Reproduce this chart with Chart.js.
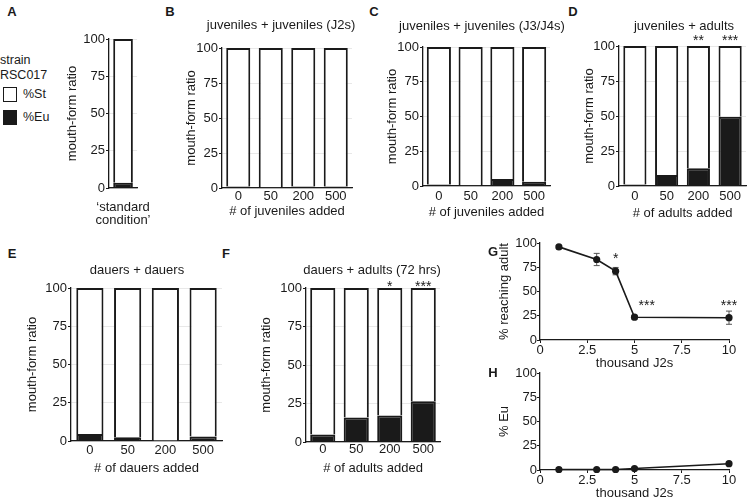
<!DOCTYPE html>
<html><head><meta charset="utf-8">
<script src="https://cdn.jsdelivr.net/npm/chart.js@4.4.1/dist/chart.umd.min.js"></script>
<style>
html,body{margin:0;padding:0;background:#fff}
#fig{position:relative;width:747px;height:498px;overflow:hidden;background:#fff;font-family:'Liberation Sans',Arial,Helvetica,sans-serif;color:#1a1a1a}
#fig canvas{position:absolute}
.t{position:absolute;white-space:nowrap;font-size:13px;line-height:1;transform:translate(-50%,-50%);z-index:2}
.p{position:absolute;font-weight:bold;font-size:13px;line-height:1;transform:translate(-50%,-50%);z-index:2}
.lg{position:absolute;font-size:12.5px;line-height:1;white-space:nowrap;transform:translateY(-50%);z-index:2}
.sw{position:absolute;width:14px;height:15px;box-sizing:border-box;border:1px solid #1a1a1a;z-index:2}
</style></head>
<body>
<div id="fig">
  <div class="p" style="left:12px;top:11px">A</div>
  <div class="p" style="left:170px;top:11px">B</div>
  <div class="p" style="left:374px;top:11px">C</div>
  <div class="p" style="left:573px;top:11px">D</div>
  <div class="p" style="left:12px;top:253px">E</div>
  <div class="p" style="left:226px;top:253px">F</div>
  <div class="p" style="left:493px;top:251px">G</div>
  <div class="p" style="left:493px;top:372px">H</div>

  <div class="lg" style="left:0px;top:60px">strain</div>
  <div class="lg" style="left:0px;top:75px">RSC017</div>
  <div class="sw" style="left:3px;top:87px;background:#fff"></div>
  <div class="lg" style="left:23px;top:94px">%St</div>
  <div class="sw" style="left:3px;top:110px;background:#1a1a1a"></div>
  <div class="lg" style="left:23px;top:117px">%Eu</div>

  <div class="t" style="left:281px;top:24px">juveniles + juveniles (J2s)</div>
  <div class="t" style="left:482px;top:25px">juveniles + juveniles (J3/J4s)</div>
  <div class="t" style="left:684px;top:25px">juveniles + adults</div>
  <div class="t" style="left:137px;top:269px">dauers + dauers</div>
  <div class="t" style="left:372px;top:269px">dauers + adults (72 hrs)</div>

  <canvas id="cA"></canvas>
  <canvas id="cB"></canvas>
  <canvas id="cC"></canvas>
  <canvas id="cD"></canvas>
  <canvas id="cE"></canvas>
  <canvas id="cF"></canvas>
  <canvas id="cG"></canvas>
  <canvas id="cH"></canvas>
</div>
<script>
// ---------- data ----------
const addedCounts = ['0', '50', '200', '500'];
const conditionA = [['\u2018standard', 'condition\u2019']];

const euA = [3.5];
const stA = [96.5];

const euB = [1, 0.5, 1, 1];
const stB = [99, 99.5, 99, 99];

const euC = [1, 0.5, 5, 3];
const stC = [99, 99.5, 95, 97];

const euD = [1, 7.8, 12.6, 49.4];
const stD = [99, 92.2, 87.4, 50.6];
const starsD = ['', '', '**', '***'];

const euE = [4.6, 2.4, 0.3, 3];
const stE = [95.4, 97.6, 99.7, 97];

const euF = [4.8, 15.9, 17.2, 26.5];
const stF = [95.2, 84.1, 82.8, 73.5];
const starsF = ['', '', '*', '***'];

const thousandJ2s = [1, 3, 4, 5, 10];
const reachingAdult = [96, 83, 71, 23.5, 23];
const reachingAdultErr = [1, 6.3, 3.8, 2, 6.8];
const starsG = [{x: 4, y: 88, t: '*'}, {x: 5.65, y: 39, t: '***'}, {x: 10, y: 39, t: '***'}];

const euH = [0.5, 0.5, 0.5, 1.5, 6.5];

const yTicks = [0, 25, 50, 75, 100];

// ---------- setup ----------
const FONT = "'Liberation Sans', Arial, Helvetica, sans-serif";
const INK = '#1a1a1a';
Chart.defaults.font.family = FONT;
Chart.defaults.font.size = 13;
Chart.defaults.color = INK;
Chart.defaults.animation = false;
const OFF = 13 * 1.2 / 2 + 4;

function place(id, g) {
  const L = Math.round(g.yTitleX - OFF);
  const T = Math.round(g.t - g.padTop);
  const bottom = Math.round(g.xTitleY != null ? g.xTitleY + OFF : g.b + g.bx);
  const W = Math.round(g.r + g.padRight) - L;
  const H = bottom - T;
  const cv = document.getElementById(id);
  cv.width = W; cv.height = H;
  cv.style.width = W + 'px'; cv.style.height = H + 'px';
  cv.style.left = L + 'px'; cv.style.top = T + 'px';
  return {cv, ly: g.l - L, bx: bottom - g.b, padTop: g.t - T, padRight: W - (g.r - L)};
}

function barStars(labels, off) {
  return {
    id: 'barStars',
    afterDatasetsDraw(chart) {
      if (!labels) return;
      const ctx = chart.ctx, xs = chart.scales.x;
      ctx.save();
      ctx.fillStyle = INK;
      ctx.font = '14px ' + FONT;
      ctx.textAlign = 'center';
      ctx.textBaseline = 'alphabetic';
      labels.forEach((t, i) => {
        if (!t) return;
        ctx.fillText(t, xs.getPixelForValue(i), chart.chartArea.top - off + 8);
      });
      ctx.restore();
    }
  };
}

function barChart(id, g, labels, eu, st, xTitle, stars, starOff, barPct, xPad, tickFont) {
  const m = place(id, g);
  return new Chart(m.cv, {
    type: 'bar',
    data: {labels, datasets: [
      {label: '%Eu', data: eu, backgroundColor: INK, borderColor: INK, borderWidth: 2,
       barPercentage: barPct, categoryPercentage: 1},
      {label: '%St', data: st, backgroundColor: '#ffffff', borderColor: INK, borderWidth: 2,
       borderSkipped: 'start', barPercentage: barPct, categoryPercentage: 1}
    ]},
    options: {
      responsive: false, animation: false, devicePixelRatio: 1,
      layout: {padding: {top: m.padTop, right: m.padRight, left: 0, bottom: 0}},
      plugins: {legend: {display: false}, tooltip: {enabled: false}},
      scales: {
        x: {stacked: true,
            grid: {display: true, drawOnChartArea: false, drawTicks: false},
            border: {display: true, color: INK, width: 1.3},
            ticks: {padding: xPad, maxRotation: 0, minRotation: 0, autoSkip: false, color: INK,
                    font: tickFont || {size: 13}},
            title: {display: !!xTitle, text: xTitle || '', color: INK, padding: {top: 0, bottom: 4}},
            afterFit: s => { s.height = m.bx; }},
        y: {stacked: true, min: 0, max: 100,
            afterBuildTicks: s => { s.ticks = yTicks.map(v => ({value: v})); },
            ticks: {padding: 1, color: INK},
            grid: {color: '#e8e8e8', tickColor: INK, tickLength: 3, drawTicks: true},
            border: {display: true, color: INK, width: 1.3},
            title: {display: true, text: 'mouth-form ratio', color: INK, padding: {top: 4, bottom: 0}},
            afterFit: s => { s.width = m.ly; }}
      }
    },
    plugins: [barStars(stars, starOff)]
  });
}

const errPlugin = (errs) => ({
  id: 'errBars',
  beforeDatasetsDraw(chart) {
    if (!errs) return;
    const ctx = chart.ctx, xs = chart.scales.x, ys = chart.scales.y;
    const ds = chart.data.datasets[0].data;
    ctx.save();
    ctx.strokeStyle = '#555';
    ctx.lineWidth = 1;
    ds.forEach((p, i) => {
      const x = xs.getPixelForValue(p.x);
      const y1 = ys.getPixelForValue(p.y - errs[i]);
      const y2 = ys.getPixelForValue(p.y + errs[i]);
      ctx.beginPath();
      ctx.moveTo(x, y1); ctx.lineTo(x, y2);
      ctx.moveTo(x - 3, y1); ctx.lineTo(x + 3, y1);
      ctx.moveTo(x - 3, y2); ctx.lineTo(x + 3, y2);
      ctx.stroke();
    });
    ctx.restore();
  }
});

const pointStars = (list) => ({
  id: 'ptStars',
  afterDatasetsDraw(chart) {
    if (!list) return;
    const ctx = chart.ctx, xs = chart.scales.x, ys = chart.scales.y;
    ctx.save();
    ctx.fillStyle = INK;
    ctx.font = '14px ' + FONT;
    ctx.textAlign = 'center';
    ctx.textBaseline = 'alphabetic';
    list.forEach(s => ctx.fillText(s.t, xs.getPixelForValue(s.x), ys.getPixelForValue(s.y) + 8));
    ctx.restore();
  }
});

function lineChart(id, g, xsVals, ysVals, errs, yTitle, stars) {
  const m = place(id, g);
  return new Chart(m.cv, {
    type: 'line',
    data: {datasets: [{
      data: xsVals.map((x, i) => ({x, y: ysVals[i]})),
      borderColor: INK, borderWidth: 1.6, tension: 0,
      pointRadius: 3.6, pointBackgroundColor: INK, pointBorderColor: INK, pointBorderWidth: 0,
      clip: false
    }]},
    options: {
      responsive: false, animation: false, devicePixelRatio: 1,
      layout: {padding: {top: m.padTop, right: m.padRight, left: 0, bottom: 0}},
      plugins: {legend: {display: false}, tooltip: {enabled: false}},
      scales: {
        x: {type: 'linear', min: 0, max: 10,
            ticks: {stepSize: 2.5, padding: 0, autoSkip: false, maxRotation: 0, color: INK},
            grid: {display: true, drawOnChartArea: false, drawTicks: true, tickLength: 3, tickColor: INK},
            border: {display: true, color: INK, width: 1.3},
            title: {display: true, text: 'thousand J2s', color: INK, padding: {top: 0, bottom: 4}},
            afterFit: s => { s.height = m.bx; }},
        y: {min: 0, max: 100,
            afterBuildTicks: s => { s.ticks = yTicks.map(v => ({value: v})); },
            ticks: {padding: 0, color: INK},
            grid: {display: true, drawOnChartArea: false, drawTicks: true, tickLength: 3, tickColor: INK},
            border: {display: true, color: INK, width: 1.3},
            title: {display: true, text: yTitle, color: INK, padding: {top: 4, bottom: 0}},
            afterFit: s => { s.width = m.ly; }}
      }
    },
    plugins: [errPlugin(errs), pointStars(stars)]
  });
}

// ---------- panels ----------
barChart('cA', {l: 109, t: 39, r: 143, b: 188, yTitleX: 73, xTitleY: null, bx: 45, padTop: 12, padRight: 40},
  conditionA, euA, stA, null, null, 0, 0.7, 12.5, {size: 13, lineHeight: 1.0});
barChart('cB', {l: 222, t: 48, r: 352, b: 188, yTitleX: 192, xTitleY: 211, padTop: 12, padRight: 4},
  addedCounts, euB, stB, '# of juveniles added', null, 0, 0.74, 1);
barChart('cC', {l: 423, t: 47, r: 550, b: 186, yTitleX: 393, xTitleY: 212, padTop: 12, padRight: 4},
  addedCounts, euC, stC, '# of juveniles added', null, 0, 0.76, 3);
barChart('cD', {l: 619, t: 46, r: 746, b: 186, yTitleX: 590, xTitleY: 213, padTop: 12, padRight: 1},
  addedCounts, euD, stD, '# of adults added', starsD, 9, 0.73, 3);
barChart('cE', {l: 71, t: 288, r: 222, b: 441, yTitleX: 33, xTitleY: 468, padTop: 12, padRight: 4},
  addedCounts, euE, stE, '# of dauers added', null, 0, 0.72, 2);
barChart('cF', {l: 306, t: 288, r: 440, b: 442, yTitleX: 267, xTitleY: 468, padTop: 12, padRight: 4},
  addedCounts, euF, stF, '# of adults added', starsF, 5, 0.75, 0);

lineChart('cG', {l: 540, t: 243, r: 729, b: 340, yTitleX: 505, xTitleY: 363, padTop: 12, padRight: 12},
  thousandJ2s, reachingAdult, reachingAdultErr, '% reaching adult', starsG);
lineChart('cH', {l: 540, t: 373, r: 729, b: 470, yTitleX: 505, xTitleY: 493, padTop: 12, padRight: 12},
  thousandJ2s, euH, null, '% Eu', null);
</script>
</body></html>
